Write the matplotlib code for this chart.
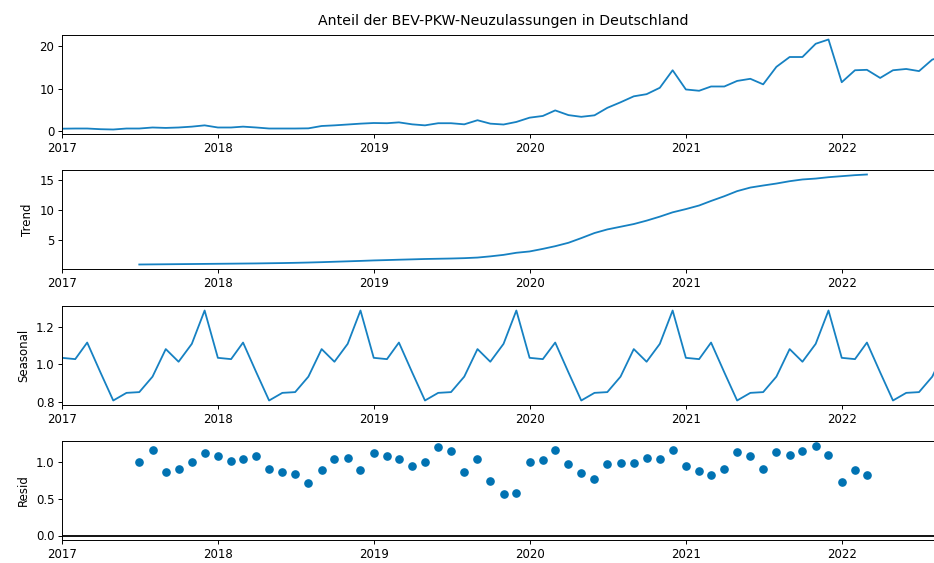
import pandas as pd
import numpy as np
import matplotlib
matplotlib.use("Agg")
import matplotlib.pyplot as plt
import matplotlib.dates as mdates

# Daten (monatlich, Jan 2017 - Sep 2022)
start_month = "2017-01-01"
observed = [
    0.62, 0.66, 0.66, 0.50, 0.43, 0.66, 0.66, 0.90, 0.80, 0.90, 1.10, 1.40,
    0.90, 0.90, 1.10, 0.90, 0.66, 0.66, 0.66, 0.70, 1.25, 1.40, 1.60, 1.80,
    1.95, 1.90, 2.10, 1.64, 1.40, 1.90, 1.90, 1.64, 2.60, 1.80, 1.60, 2.20,
    3.20, 3.60, 4.90, 3.80, 3.40, 3.75, 5.50, 6.80, 8.20, 8.70, 10.2, 14.3,
    9.80, 9.50, 10.5, 10.5, 11.8, 12.3, 11.0, 15.1, 17.4, 17.4, 20.5, 21.5,
    11.5, 14.3, 14.4, 12.5, 14.3, 14.6, 14.1, 16.8, 17.7,
]

# Trend ab Jul 2017 bis Mär 2022
trend_start = "2017-07-01"
trend = [
    0.84, 0.86, 0.88, 0.90, 0.92, 0.94,
    0.96, 0.98, 1.00, 1.02, 1.05, 1.08, 1.12, 1.17, 1.23, 1.30, 1.37, 1.44,
    1.52, 1.58, 1.64, 1.70, 1.76, 1.80, 1.84, 1.90, 2.00, 2.20, 2.45, 2.80,
    3.02, 3.45, 3.90, 4.47, 5.25, 6.10, 6.70, 7.15, 7.60, 8.17, 8.84, 9.56,
    10.1, 10.7, 11.46, 12.25, 13.1, 13.7, 14.04, 14.37, 14.76, 15.05, 15.2, 15.43,
    15.6, 15.77, 15.88,
]

# Saisonfaktoren Jan..Dez
seasonal_factors = [1.035, 1.028, 1.117, 0.957, 0.806, 0.847,
                    0.851, 0.934, 1.082, 1.014, 1.110, 1.289]

resid = [
    1.000, 1.166, 0.867, 0.904, 1.000, 1.125,
    1.075, 1.010, 1.033, 1.079, 0.904, 0.867, 0.834, 0.719, 0.889, 1.037, 1.056, 0.889,
    1.125, 1.075, 1.033, 0.945, 1.000, 1.203, 1.148, 0.867, 1.037, 0.742, 0.558, 0.576,
    1.000, 1.019, 1.166, 0.964, 0.853, 0.761, 0.964, 0.982, 0.982, 1.056, 1.037, 1.166,
    0.945, 0.871, 0.816, 0.908, 1.130, 1.075, 0.908, 1.130, 1.093, 1.148, 1.221, 1.093,
    0.724, 0.889, 0.816,
]

title = "Anteil der BEV-PKW-Neuzulassungen in Deutschland"
ylabels = ["", "Trend", "Seasonal", "Resid"]
yticks = [[0, 10, 20], [5, 10, 15], [0.8, 1.0, 1.2], [0.0, 0.5, 1.0]]

line_color = "#1681c2"
dot_color = "#0072B2"
fs = 8.5


def main():
    plt.rcParams["font.family"] = "DejaVu Sans"
    plt.rcParams["axes.linewidth"] = 0.7

    dates = pd.date_range(start_month, periods=len(observed), freq="MS")
    trend_dates = pd.date_range(trend_start, periods=len(trend), freq="MS")
    seasonal = np.tile(seasonal_factors, len(dates) // 12 + 1)[:len(dates)]

    fig, axes = plt.subplots(4, 1, figsize=(9.34, 5.63), dpi=100)

    # Positionen der Achsen (rechter Rand ist im Original abgeschnitten)
    left = 62 / 934
    width = (945.5 - 62) / 934
    height = 99 / 563
    bottoms = [1 - 134 / 563, 1 - 269 / 563, 1 - 405 / 563, 1 - 540 / 563]
    for ax, b in zip(axes, bottoms):
        ax.set_position([left, b, width, height])

    axes[0].plot(dates, observed, color=line_color, lw=1.3)
    axes[0].set_title(title, fontsize=fs * 1.2, pad=7)
    axes[1].plot(trend_dates, trend, color=line_color, lw=1.3)
    axes[2].plot(dates, seasonal, color=line_color, lw=1.3)

    xlim = (dates[0], dates[-1])
    axes[3].plot(trend_dates, resid, marker="o", linestyle="none",
                 color=dot_color, markersize=5.2)
    axes[3].plot(xlim, (0, 0), color="#000000", lw=1.3, zorder=-3)

    for i, ax in enumerate(axes):
        ax.set_xlim(xlim)
        ax.set_yticks(yticks[i])
        ax.set_ylabel(ylabels[i], fontsize=fs)
        ax.xaxis.set_major_locator(mdates.YearLocator())
        ax.xaxis.set_major_formatter(mdates.DateFormatter("%Y"))
        ax.tick_params(labelsize=fs, length=3, width=0.7, pad=2.5)
        ax.margins(y=0.05)

    plt.savefig("out.png", dpi=100)
    plt.close(fig)


if __name__ == "__main__":
    main()
